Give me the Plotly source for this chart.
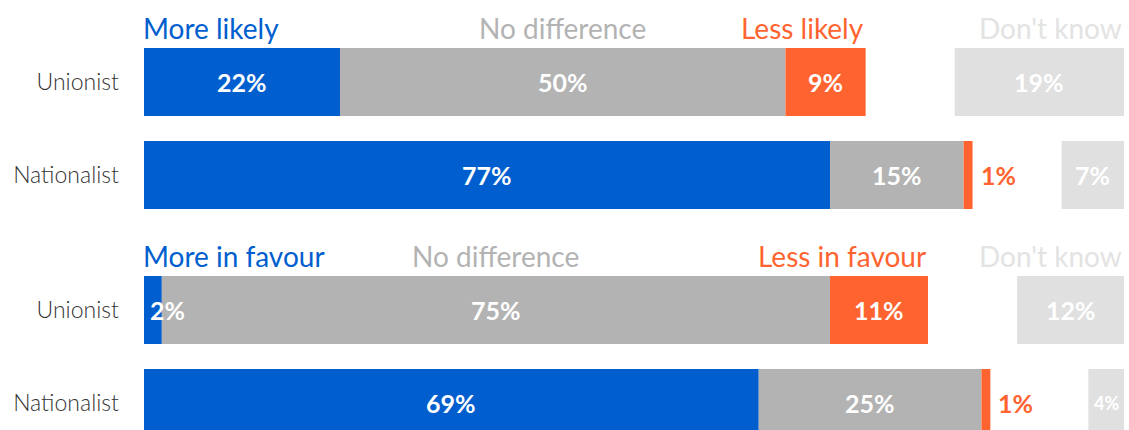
import plotly.graph_objects as go

# ---- data ----
categories = ["Unionist", "Nationalist"]

p1_headers = ["More likely", "No difference", "Less likely", "Don't know"]
p1_more = [22, 77]
p1_nodiff = [50, 15]
p1_less = [9, 1]
p1_dk = [19, 7]

p2_headers = ["More in favour", "No difference", "Less in favour", "Don't know"]
p2_more = [2, 69]
p2_nodiff = [75, 25]
p2_less = [11, 1]
p2_dk = [12, 4]

# ---- style ----
BLUE = "#005ECE"
GRAY = "#B3B3B3"
ORANGE = "#FF6430"
LIGHT = "#E0E0E0"
HEAD_DK = "#E3E3E3"
FONT = "Lato"
XMAX = 110
BARW = 0.73

fig = go.Figure()
annotations = []

panels = [
    dict(xa="x", ya="y", yref="y", headers=p1_headers, more=p1_more, nod=p1_nodiff,
         less=p1_less, dk=p1_dk, head_y=0.935),
    dict(xa="x2", ya="y2", yref="y2", headers=p2_headers, more=p2_more, nod=p2_nodiff,
         less=p2_less, dk=p2_dk, head_y=0.405),
]

for p in panels:
    more, nod, less, dk = p["more"], p["nod"], p["less"], p["dk"]
    dk_base = [XMAX - v for v in dk]
    segs = [
        ("more", more, [0, 0], BLUE),
        ("nod", nod, more, GRAY),
        ("less", less, [m + n for m, n in zip(more, nod)], ORANGE),
        ("dk", dk, dk_base, LIGHT),
    ]
    for name, vals, base, col in segs:
        fig.add_trace(go.Bar(
            y=categories, x=vals, base=base, orientation="h",
            marker=dict(color=col, line=dict(width=0)), width=BARW,
            xaxis=p["xa"], yaxis=p["ya"], showlegend=False, hoverinfo="skip",
        ))
        for cat, v, b in zip(categories, vals, base):
            txt = f"{v}%"
            if name == "more" and v < 3:
                annotations.append(dict(x=b, y=cat, xref=p["xa"], yref=p["yref"], text=txt,
                                        xanchor="left", xshift=4, showarrow=False,
                                        font=dict(family=FONT, size=25, color="white", weight="bold")))
            elif name == "less" and v < 3:
                annotations.append(dict(x=b + v, y=cat, xref=p["xa"], yref=p["yref"], text=txt,
                                        xanchor="left", xshift=6, showarrow=False,
                                        font=dict(family=FONT, size=25, color=ORANGE, weight="bold")))
            else:
                size = 18 if v < 5 else 25
                annotations.append(dict(x=b + v / 2, y=cat, xref=p["xa"], yref=p["yref"], text=txt,
                                        xanchor="center", showarrow=False,
                                        font=dict(family=FONT, size=size, color="white", weight="bold")))
    # headers
    h = p["headers"]
    hx = [0, more[0] + nod[0] / 2, more[0] + nod[0] + less[0], XMAX]
    hanchor = ["left", "center", "right", "right"]
    hcol = [BLUE, GRAY, ORANGE, HEAD_DK]
    for t, x, a, c in zip(h, hx, hanchor, hcol):
        annotations.append(dict(x=x, y=p["head_y"], xref=p["xa"], yref="paper", text=t,
                                xanchor=a, yanchor="middle", showarrow=False, xshift=(-3 if a == "left" else 0),
                                font=dict(family=FONT, size=28, color=c)))

axis_x = dict(range=[0, XMAX], showgrid=False, zeroline=False, showticklabels=False,
              showline=False, fixedrange=True)
axis_y = dict(showgrid=False, zeroline=False, showline=False, ticks="",
              ticklabelstandoff=24,
              tickfont=dict(family=FONT, size=23, color="#333333", weight=300))

fig.update_layout(
    width=1129, height=430,
    margin=dict(l=144, r=5, t=0, b=0),
    paper_bgcolor="white", plot_bgcolor="white",
    barmode="overlay",
    xaxis=dict(axis_x, anchor="y", domain=[0, 1]),
    xaxis2=dict(axis_x, anchor="y2", domain=[0, 1]),
    yaxis=dict(axis_y, domain=[0.4849, 0.9174], range=[1.5, -0.5], anchor="x",
               type="category"),
    yaxis2=dict(axis_y, domain=[0.0, 0.3872], range=[1.29, -0.5], anchor="x2",
                type="category"),
    annotations=annotations,
)

fig.write_html("out.html", config={"displayModeBar": False},
               post_script="document.body.style.margin='0';")
